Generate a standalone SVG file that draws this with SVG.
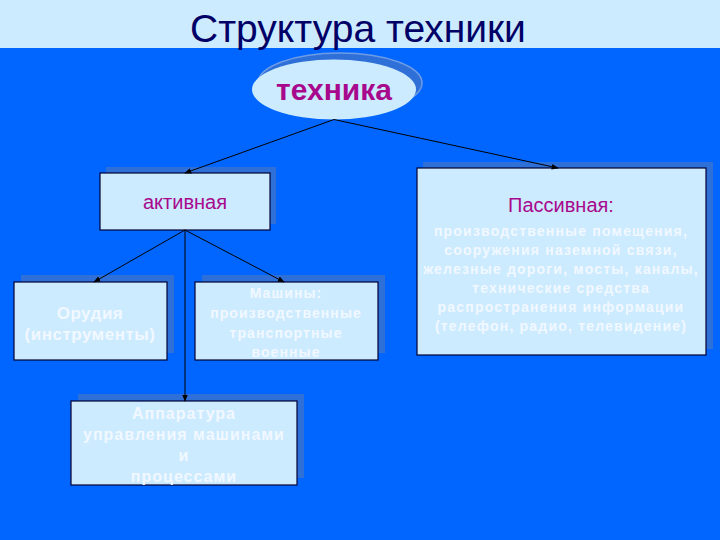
<svg xmlns="http://www.w3.org/2000/svg" width="720" height="540" viewBox="0 0 720 540">
<defs>
<marker id="arr" viewBox="0 0 10 10" refX="9" refY="5" markerWidth="7" markerHeight="7" orient="auto" markerUnits="userSpaceOnUse">
<path d="M0,1 L10,5 L0,9 Z" fill="#000"/>
</marker>
</defs>
<style>
.box{fill:#CCEBFF;stroke:#000033;stroke-width:1.2}
.sh{fill:#2E6FD8;stroke:none}
.mag{fill:#A8088C;font-family:"Liberation Sans",Arial,sans-serif;text-anchor:middle}
.wt{fill:#F2F8FF;font-family:"Liberation Sans",Arial,sans-serif;text-anchor:middle;font-weight:bold}
.conn{stroke:#000;stroke-width:1;fill:none;marker-end:url(#arr)}
</style>
<rect x="0" y="0" width="720" height="540" fill="#0066FF"/>
<rect x="0" y="0" width="720" height="48" fill="#CCEBFF"/>
<text x="358" y="42" font-family="'Liberation Sans',Arial,sans-serif" font-size="39" fill="#000066" text-anchor="middle">Структура техники</text>

<g id="tehnika">
<ellipse cx="340" cy="83" rx="82" ry="30" fill="#2E6FD8" stroke="#6F9CE6" stroke-width="1.5"/>
<ellipse cx="334" cy="89.5" rx="82" ry="30" fill="#CCEBFF"/>
<text x="334" y="100" class="mag" font-size="30" font-weight="bold">техника</text>
</g>

<g id="aktivnaya">
<rect class="sh" x="106" y="167" width="170" height="57"/>
<rect class="box" x="100" y="173" width="170" height="57"/>
<text x="185" y="209" class="mag" font-size="20">активная</text>
</g>

<g id="passivnaya">
<rect class="sh" x="423" y="162" width="290" height="187"/>
<rect class="box" x="417" y="168" width="289" height="187"/>
<text x="561" y="212" class="mag" font-size="20">Пассивная:</text>
<g class="wt" font-size="14" letter-spacing="1.2">
<text x="561" y="236">производственные помещения,</text>
<text x="561" y="255">сооружения наземной связи,</text>
<text x="561" y="274">железные дороги, мосты, каналы,</text>
<text x="561" y="293">технические средства</text>
<text x="561" y="312">распространения информации</text>
<text x="561" y="331">(телефон, радио, телевидение)</text>
</g>
</g>

<g id="orudiya">
<rect class="sh" x="21" y="275" width="153" height="78"/>
<rect class="box" x="14" y="282" width="153" height="78"/>
<g class="wt" font-size="17" letter-spacing="0.5">
<text x="90" y="319">Орудия</text>
<text x="90" y="340">(инструменты)</text>
</g>
</g>

<g id="mashiny">
<rect class="sh" x="202" y="275" width="183" height="78"/>
<rect class="box" x="195" y="282" width="183" height="78"/>
<g class="wt" font-size="14" letter-spacing="1.1">
<text x="286" y="298">Машины:</text>
<text x="286" y="318">производственные</text>
<text x="286" y="338">транспортные</text>
<text x="286" y="357">военные</text>
</g>
</g>

<g id="apparatura">
<rect class="sh" x="78" y="394" width="226" height="84"/>
<rect class="box" x="71" y="401" width="226" height="84"/>
<g class="wt" font-size="16" letter-spacing="1">
<text x="184" y="419">Аппаратура</text>
<text x="184" y="440">управления машинами</text>
<text x="184" y="461">и</text>
<text x="184" y="482">процессами</text>
</g>
</g>

<g id="conns">
<line class="conn" x1="334" y1="119.5" x2="185" y2="173"/>
<line class="conn" x1="334" y1="119.5" x2="558" y2="168"/>
<line class="conn" x1="185" y1="230" x2="94" y2="282"/>
<line class="conn" x1="185" y1="230" x2="284" y2="282"/>
<line class="conn" x1="185" y1="230" x2="185" y2="401"/>
</g>
</svg>
